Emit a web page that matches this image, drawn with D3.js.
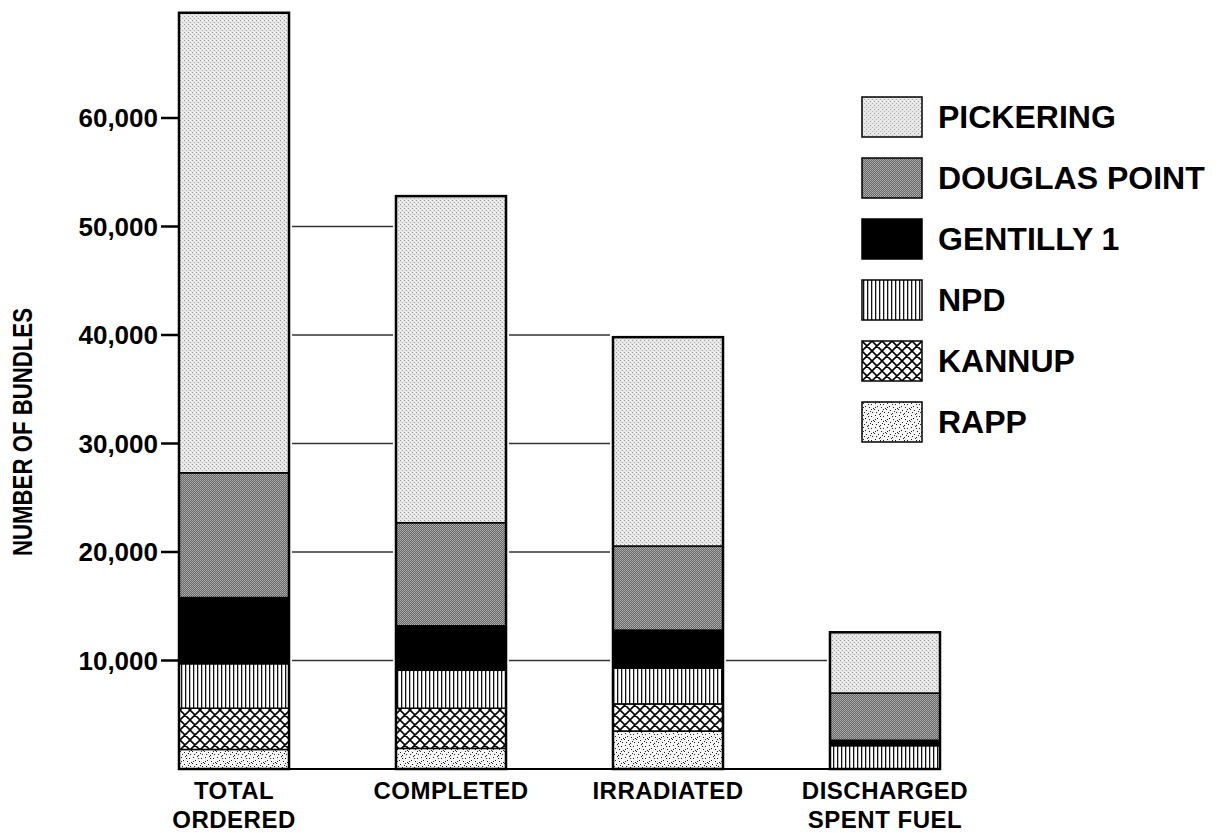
<!DOCTYPE html>
<html>
<head>
<meta charset="utf-8">
<script src="https://cdn.jsdelivr.net/npm/d3@7"></script>
<style>
body { margin: 0; background: #fff; }
text { font-family: "Liberation Sans", Arial, Helvetica, sans-serif; font-weight: bold; fill: #000; }
</style>
</head>
<body>
<svg id="chart" width="1222" height="833"></svg>
<script>
// categories along the bottom
var categories = ["TOTAL ORDERED", "COMPLETED", "IRRADIATED", "DISCHARGED SPENT FUEL"];
var categoryLines = [["TOTAL", "ORDERED"], ["COMPLETED"], ["IRRADIATED"], ["DISCHARGED", "SPENT FUEL"]];

// stacked segments, bottom to top (number of bundles)
var rapp      = [1800, 1900, 3500, 0];
var kannup    = [3800, 3700, 2500, 0];
var npd       = [4100, 3500, 3300, 2150];
var gentilly  = [6100, 4100, 3500, 500];
var douglas   = [11500, 9500, 7750, 4350];
var pickering = [42400, 30100, 19250, 5600];

var seriesNames = ["RAPP", "KANNUP", "NPD", "GENTILLY 1", "DOUGLAS POINT", "PICKERING"];
var seriesValues = [rapp, kannup, npd, gentilly, douglas, pickering];
var legendOrder = ["PICKERING", "DOUGLAS POINT", "GENTILLY 1", "NPD", "KANNUP", "RAPP"];

var yTicks = [10000, 20000, 30000, 40000, 50000, 60000];

var svg = d3.select("#chart");
var defs = svg.append("defs");

// --- fill patterns ---
function pat(id, w, h) {
    return defs.append("pattern").attr("id", id)
        .attr("patternUnits", "userSpaceOnUse")
        .attr("width", w).attr("height", h);
}

var p = pat("pickering", 4, 4);
p.append("rect").attr("width", 4).attr("height", 4).attr("fill", "#e6e6e6");
p.append("rect").attr("x", 0).attr("y", 0).attr("width", 1).attr("height", 1).attr("fill", "#9a9a9a");
p.append("rect").attr("x", 2).attr("y", 2).attr("width", 1).attr("height", 1).attr("fill", "#b0b0b0");
p.append("rect").attr("x", 2).attr("y", 0).attr("width", 1).attr("height", 1).attr("fill", "#ffffff");

p = pat("douglas", 2, 2);
p.append("rect").attr("width", 2).attr("height", 2).attr("fill", "#666");
p.append("rect").attr("x", 0).attr("y", 0).attr("width", 1).attr("height", 1).attr("fill", "#b4b4b4");
p.append("rect").attr("x", 1).attr("y", 1).attr("width", 1).attr("height", 1).attr("fill", "#a0a0a0");

p = pat("npd", 4, 4);
p.append("rect").attr("width", 4).attr("height", 4).attr("fill", "#fff");
p.append("rect").attr("x", 1).attr("width", 1.3).attr("height", 4).attr("fill", "#111");

p = pat("kannup", 10, 10);
p.append("rect").attr("width", 10).attr("height", 10).attr("fill", "#fff");
p.append("path").attr("d", "M0,0L10,10M10,0L0,10M-1,9L1,11M9,-1L11,1M-1,1L1,-1M9,11L11,9")
    .attr("stroke", "#000").attr("stroke-width", 1.6).attr("fill", "none");

p = pat("rapp", 12, 12);
p.append("rect").attr("width", 12).attr("height", 12).attr("fill", "#f6f6f6");
var speckles = [[1,1],[5,0],[9,2],[3,4],[7,5],[11,6],[0,7],[4,8],[8,9],[2,10],[6,11],[10,10],[6,2],[1,5],[9,7]];
p.selectAll("rect.s").data(speckles).enter().append("rect").attr("class", "s")
    .attr("x", function(d) { return d[0]; }).attr("y", function(d) { return d[1]; })
    .attr("width", 1).attr("height", 1).attr("fill", "#222");

var fills = {
    "PICKERING": "url(#pickering)",
    "DOUGLAS POINT": "url(#douglas)",
    "GENTILLY 1": "#000",
    "NPD": "url(#npd)",
    "KANNUP": "url(#kannup)",
    "RAPP": "url(#rapp)"
};

// --- scales ---
var x = d3.scaleBand().domain(categories).range([179, 940]).paddingInner(0.493).paddingOuter(0);
var y = d3.scaleLinear().domain([0, 70000]).range([769, 9.5]);

// --- stack ---
var rows = categories.map(function(c, i) {
    var r = { cat: c };
    seriesNames.forEach(function(s, j) { r[s] = seriesValues[j][i]; });
    return r;
});
var stacked = d3.stack().keys(seriesNames)(rows);
var totals = rows.map(function(r) { return d3.sum(seriesNames, function(s) { return r[s]; }); });

// --- gap lines between bars ---
var gapLines = [];
for (var i = 0; i < categories.length - 1; i++) {
    var limit = Math.round(totals[i + 1] / 10000) * 10000;
    yTicks.forEach(function(t) {
        if (t <= limit && t < totals[i]) gapLines.push({ i: i, v: t });
    });
}
svg.append("g").selectAll("line").data(gapLines).enter().append("line")
    .attr("x1", function(d) { return x(categories[d.i]) + x.bandwidth() + 3; })
    .attr("x2", function(d) { return x(categories[d.i + 1]) - 3; })
    .attr("y1", function(d) { return y(d.v); })
    .attr("y2", function(d) { return y(d.v); })
    .attr("stroke", "#333").attr("stroke-width", 1.5);

// --- y axis ---
svg.append("line").attr("x1", 179).attr("x2", 179).attr("y1", y(totals[0])).attr("y2", y(0))
    .attr("stroke", "#000").attr("stroke-width", 2);
var ty = svg.append("g").selectAll("g").data(yTicks).enter().append("g");
ty.append("line").attr("x1", 161).attr("x2", 179)
    .attr("y1", function(d) { return y(d); }).attr("y2", function(d) { return y(d); })
    .attr("stroke", "#000").attr("stroke-width", 2.5);
ty.append("text").attr("x", 158).attr("y", function(d) { return y(d) + 9; })
    .attr("text-anchor", "end").style("font-size", "26px")
    .text(function(d) { return d3.format(",")(d); });

svg.append("text")
    .attr("transform", "translate(32,432) rotate(-90)")
    .attr("text-anchor", "middle")
    .attr("textLength", 248).attr("lengthAdjust", "spacingAndGlyphs")
    .style("font-size", "27px")
    .style("font-family", "'Liberation Sans Narrow', 'Arial Narrow', 'Liberation Sans', sans-serif")
    .text("NUMBER OF BUNDLES");

// --- bars ---
var layers = svg.append("g").selectAll("g").data(stacked).enter().append("g")
    .attr("fill", function(d) { return fills[d.key]; });
layers.selectAll("rect").data(function(d) { return d.filter(function(s) { return s[1] > s[0]; }); })
    .enter().append("rect")
    .attr("x", function(d) { return x(d.data.cat); })
    .attr("width", x.bandwidth())
    .attr("y", function(d) { return y(d[1]); })
    .attr("height", function(d) { return y(d[0]) - y(d[1]); })
    .attr("stroke", "#000").attr("stroke-width", 1.5);

// bar outlines
svg.append("g").selectAll("rect").data(rows).enter().append("rect")
    .attr("x", function(d) { return x(d.cat); })
    .attr("width", x.bandwidth())
    .attr("y", function(d, i) { return y(totals[i]); })
    .attr("height", function(d, i) { return y(0) - y(totals[i]); })
    .attr("fill", "none").attr("stroke", "#000").attr("stroke-width", 2.5);

// baseline
svg.append("line").attr("x1", 179).attr("x2", 940).attr("y1", y(0)).attr("y2", y(0))
    .attr("stroke", "#000").attr("stroke-width", 2);

// category labels
var cl = svg.append("g").selectAll("text").data(categories).enter().append("text")
    .attr("text-anchor", "middle").style("font-size", "24px").style("letter-spacing", "0.5px");
cl.selectAll("tspan").data(function(d, i) { return categoryLines[i]; }).enter().append("tspan")
    .attr("x", function() { var c = d3.select(this.parentNode).datum(); return x(c) + x.bandwidth() / 2; })
    .attr("y", function(d, j) { return 799 + j * 29; })
    .text(function(d) { return d; });

// --- legend ---
var lg = svg.append("g").selectAll("g").data(legendOrder).enter().append("g")
    .attr("transform", function(d, i) { return "translate(862," + (97 + i * 61) + ")"; });
lg.append("rect").attr("width", 60).attr("height", 40)
    .attr("fill", function(d) { return fills[d]; })
    .attr("stroke", "#000").attr("stroke-width", 1.5);
lg.append("text").attr("x", 76).attr("y", 31).style("font-size", "32px")
    .text(function(d) { return d; });
</script>
</body>
</html>
